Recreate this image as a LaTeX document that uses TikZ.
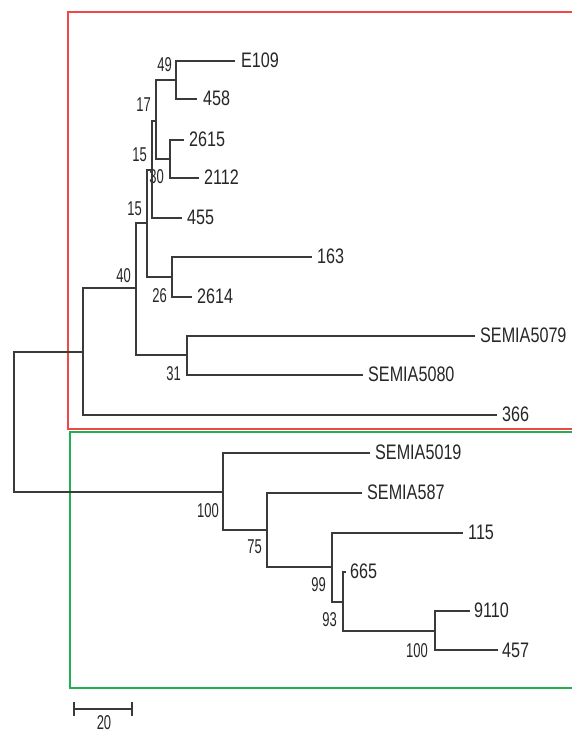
\documentclass[tikz,border=0pt]{standalone}
\usepackage{fontspec}
\setmainfont{Liberation Sans}
\newfontfamily\tipfont[FakeStretch=0.77]{Liberation Sans}
\newfontfamily\bsfont[FakeStretch=0.65]{Liberation Sans}
\definecolor{branch}{HTML}{3A3A3A}
\definecolor{redbox}{HTML}{F04848}
\definecolor{greenbox}{HTML}{20B050}
\begin{document}
\begin{tikzpicture}[x=1pt,y=-1pt,
  branchline/.style={draw=branch,line width=1.5pt},
  tiplab/.style={anchor=base west,inner sep=0pt,font=\tipfont\fontsize{21}{21}\selectfont,text=black!85},
  bslab/.style={anchor=base east,inner sep=0pt,font=\bsfont\fontsize{20}{20}\selectfont,text=black!85},
  boxline/.style={line width=1.1pt}]
\useasboundingbox (0,0) rectangle (571,733);
% clade boxes
\draw[boxline,draw=redbox] (580,12) -- (68,12) -- (68,429) -- (580,429);
\draw[boxline,draw=greenbox] (580,432) -- (70,432) -- (70,688) -- (580,688);
% internal nodes
\coordinate (R) at (14,422);
\coordinate (A) at (83,352);
\coordinate (B) at (136,288);
\coordinate (C) at (187,355);
\coordinate (D) at (147,223);
\coordinate (N26) at (172,277);
\coordinate (U) at (152,170);
\coordinate (N17) at (156,121);
\coordinate (N49) at (176,80);
\coordinate (N30) at (170,159);
\coordinate (N100) at (223,492);
\coordinate (N75) at (267,530);
\coordinate (N99) at (332,567);
\coordinate (N93) at (343,602);
\coordinate (N100b) at (435,631);
% tips
\coordinate (tE109) at (235,61);
\coordinate (t458) at (197,99);
\coordinate (t2615) at (184,140);
\coordinate (t2112) at (199,178);
\coordinate (t455) at (182,218);
\coordinate (t163) at (312,257);
\coordinate (t2614) at (192,297);
\coordinate (tS5079) at (475,336);
\coordinate (tS5080) at (363,375);
\coordinate (t366) at (497,415);
\coordinate (tS5019) at (370,453);
\coordinate (tS587) at (362,493);
\coordinate (t115) at (463,533);
\coordinate (t665) at (346,572);
\coordinate (t9110) at (470,611);
\coordinate (t457) at (498,650);
% bootstrap labels
\node[bslab] (b49) at (172,72) {49};
\node[bslab] (b17) at (151,112) {17};
\node[bslab] (b15u) at (147,161) {15};
\node[bslab] (b30) at (164,183) {30};
\node[bslab] (b15d) at (142,215) {15};
\node[bslab] (b40) at (131,282) {40};
\node[bslab] (b26) at (167,302) {26};
\node[bslab] (b31) at (181,380) {31};
\node[bslab] (b100) at (219,517) {100};
\node[bslab] (b75) at (262,553) {75};
\node[bslab] (b99) at (326,591) {99};
\node[bslab] (b93) at (337,626) {93};
\node[bslab] (b100b) at (428,657) {100};
% branches
\draw[branchline] (R) |- (A);
\draw[branchline] (R) |- (N100);
\draw[branchline] (A) |- (B);
\draw[branchline] (A) |- (t366);
\draw[branchline] (B) |- (D);
\draw[branchline] (B) |- (C);
\draw[branchline] (C) |- (tS5079);
\draw[branchline] (C) |- (tS5080);
\draw[branchline] (D) |- (U);
\draw[branchline] (D) |- (N26);
\draw[branchline] (N26) |- (t163);
\draw[branchline] (N26) |- (t2614);
\draw[branchline] (U) |- (N17);
\draw[branchline] (U) |- (t455);
\draw[branchline] (N17) |- (N49);
\draw[branchline] (N17) |- (N30);
\draw[branchline] (N49) |- (tE109);
\draw[branchline] (N49) |- (t458);
\draw[branchline] (N30) |- (t2615);
\draw[branchline] (N30) |- (t2112);
\draw[branchline] (N100) |- (tS5019);
\draw[branchline] (N100) |- (N75);
\draw[branchline] (N75) |- (tS587);
\draw[branchline] (N75) |- (N99);
\draw[branchline] (N99) |- (t115);
\draw[branchline] (N99) |- (N93);
\draw[branchline] (N93) |- (t665);
\draw[branchline] (N93) |- (N100b);
\draw[branchline] (N100b) |- (t9110);
\draw[branchline] (N100b) |- (t457);
% tip labels
\node[tiplab] (lE109) at ([xshift=6pt,yshift=-6.5pt]tE109) {E109};
\node[tiplab] (l458) at ([xshift=6pt,yshift=-7pt]t458) {458};
\node[tiplab] (l2615) at ([xshift=5pt,yshift=-6.5pt]t2615) {2615};
\node[tiplab] (l2112) at ([xshift=5pt,yshift=-6.5pt]t2112) {2112};
\node[tiplab] (l455) at ([xshift=5pt,yshift=-6.5pt]t455) {455};
\node[tiplab] (l163) at ([xshift=5pt,yshift=-6pt]t163) {163};
\node[tiplab] (l2614) at ([xshift=5pt,yshift=-6.5pt]t2614) {2614};
\node[tiplab] (lS5079) at ([xshift=5pt,yshift=-6.5pt]tS5079) {SEMIA5079};
\node[tiplab] (lS5080) at ([xshift=5pt,yshift=-6.5pt]tS5080) {SEMIA5080};
\node[tiplab] (l366) at ([xshift=5pt,yshift=-6.5pt]t366) {366};
\node[tiplab] (lS5019) at ([xshift=5pt,yshift=-6.5pt]tS5019) {SEMIA5019};
\node[tiplab] (lS587) at ([xshift=5pt,yshift=-6.5pt]tS587) {SEMIA587};
\node[tiplab] (l115) at ([xshift=5pt,yshift=-6.5pt]t115) {115};
\node[tiplab] (l665) at ([xshift=4pt,yshift=-6.5pt]t665) {665};
\node[tiplab] (l9110) at ([xshift=4pt,yshift=-6.5pt]t9110) {9110};
\node[tiplab] (l457) at ([xshift=4pt,yshift=-7pt]t457) {457};
% scale bar
\coordinate (sL) at (74,709);
\coordinate (sR) at (132,709);
\draw[branchline] (sL) -- (sR);
\draw[branchline] ([yshift=7pt]sL) -- ([yshift=-7pt]sL);
\draw[branchline] ([yshift=7pt]sR) -- ([yshift=-7pt]sR);
\node[bslab,anchor=base] (s20) at (104,729) {20};
\end{tikzpicture}
\end{document}
